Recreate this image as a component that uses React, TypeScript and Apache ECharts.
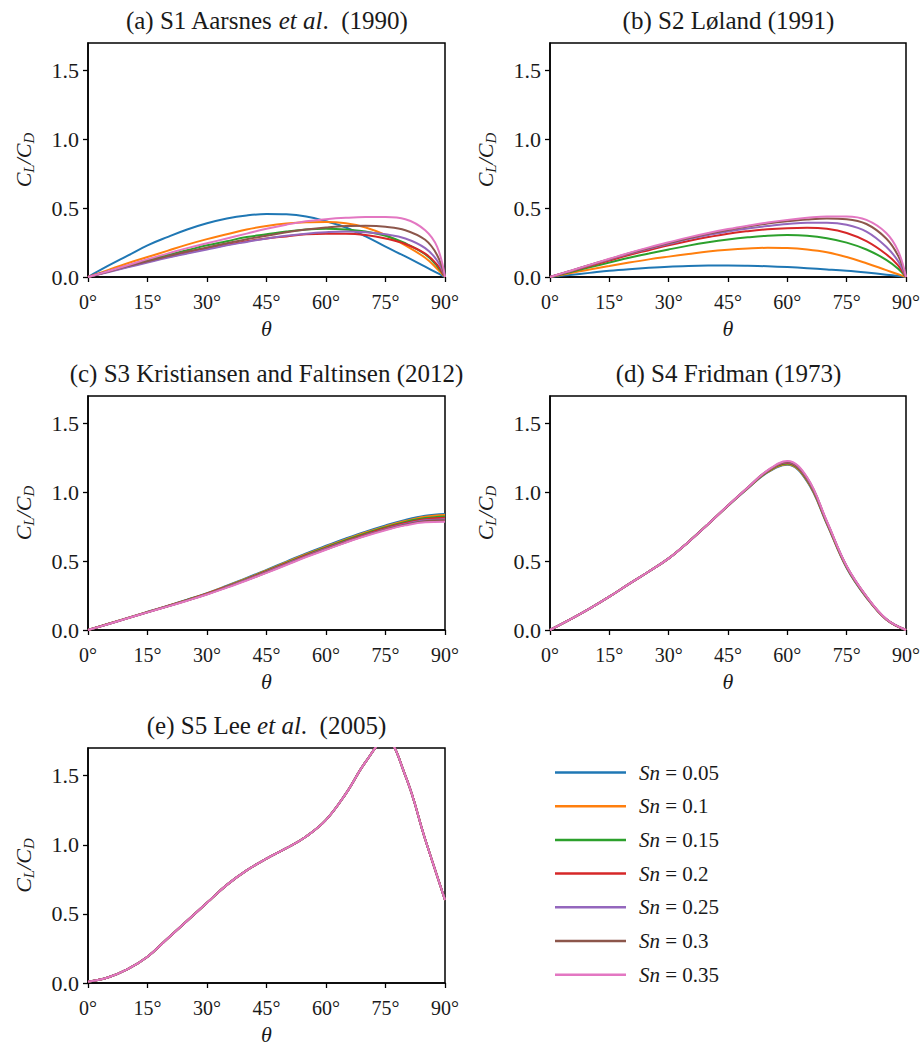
import React, { useEffect, useRef } from 'react';
import * as echarts from 'echarts';

// ---------- data ----------
const SN_LABELS = ['0.05', '0.1', '0.15', '0.2', '0.25', '0.3', '0.35'];
const X_TICKS = [0, 15, 30, 45, 60, 75, 90];
const Y_TICKS = [0, 0.5, 1.0, 1.5];

const PANEL_TITLES = [
  '{n|(a) S1 Aarsnes }{i|et al}{n|.  (1990)}',
  '{n|(b) S2 Løland (1991)}',
  '{n|(c) S3 Kristiansen and Faltinsen (2012)}',
  '{n|(d) S4 Fridman (1973)}',
  '{n|(e) S5 Lee }{i|et al}{n|.  (2005)}',
];

// (a) S1 Aarsnes et al. (1990)
const THETA_A = [0, 5, 10, 15, 20, 25, 30, 35, 40, 45, 50, 55, 60, 65, 70, 75, 80, 85, 88, 90];
const A_005 = [0, 0.08, 0.155, 0.23, 0.29, 0.345, 0.39, 0.425, 0.447, 0.457, 0.455, 0.44, 0.405, 0.36, 0.295, 0.22, 0.15, 0.075, 0.03, 0];
const A_010 = [0, 0.05, 0.1, 0.145, 0.19, 0.235, 0.275, 0.31, 0.345, 0.37, 0.388, 0.398, 0.4, 0.39, 0.36, 0.305, 0.23, 0.14, 0.06, 0];
const A_015 = [0, 0.04, 0.08, 0.12, 0.16, 0.195, 0.23, 0.26, 0.29, 0.31, 0.33, 0.345, 0.35, 0.345, 0.33, 0.3, 0.245, 0.165, 0.08, 0];
const A_020 = [0, 0.038, 0.075, 0.11, 0.145, 0.175, 0.205, 0.235, 0.26, 0.28, 0.295, 0.31, 0.315, 0.315, 0.305, 0.28, 0.24, 0.17, 0.09, 0];
const A_025 = [0, 0.035, 0.07, 0.105, 0.14, 0.17, 0.2, 0.23, 0.255, 0.28, 0.3, 0.315, 0.325, 0.33, 0.325, 0.31, 0.28, 0.21, 0.12, 0];
const A_030 = [0, 0.04, 0.08, 0.115, 0.15, 0.185, 0.215, 0.245, 0.275, 0.3, 0.325, 0.345, 0.36, 0.37, 0.372, 0.365, 0.34, 0.27, 0.16, 0];
const A_035 = [0, 0.042, 0.085, 0.13, 0.17, 0.21, 0.245, 0.28, 0.315, 0.35, 0.38, 0.405, 0.42, 0.43, 0.435, 0.435, 0.42, 0.34, 0.22, 0];

// (b) S2 Løland (1991)
const THETA_B = [0, 5, 10, 15, 20, 25, 30, 35, 40, 45, 50, 55, 60, 65, 70, 75, 80, 85, 88, 90];
const B_005 = [0, 0.015, 0.03, 0.045, 0.057, 0.067, 0.075, 0.08, 0.083, 0.084, 0.082, 0.078, 0.072, 0.064, 0.055, 0.045, 0.032, 0.017, 0.007, 0];
const B_010 = [0, 0.027, 0.055, 0.08, 0.105, 0.128, 0.148, 0.167, 0.185, 0.198, 0.207, 0.212, 0.21, 0.2, 0.18, 0.145, 0.1, 0.05, 0.02, 0];
const B_015 = [0, 0.035, 0.07, 0.105, 0.14, 0.17, 0.2, 0.228, 0.252, 0.272, 0.288, 0.3, 0.305, 0.3, 0.282, 0.25, 0.2, 0.125, 0.06, 0];
const B_020 = [0, 0.04, 0.08, 0.12, 0.16, 0.195, 0.23, 0.262, 0.29, 0.315, 0.333, 0.347, 0.355, 0.358, 0.35, 0.32, 0.26, 0.165, 0.085, 0];
const B_025 = [0, 0.042, 0.085, 0.127, 0.168, 0.205, 0.24, 0.275, 0.305, 0.33, 0.352, 0.37, 0.385, 0.395, 0.395, 0.38, 0.33, 0.22, 0.115, 0];
const B_030 = [0, 0.043, 0.087, 0.13, 0.172, 0.21, 0.247, 0.282, 0.314, 0.342, 0.367, 0.388, 0.405, 0.418, 0.425, 0.42, 0.385, 0.28, 0.155, 0];
const B_035 = [0, 0.044, 0.088, 0.132, 0.175, 0.215, 0.252, 0.288, 0.32, 0.348, 0.373, 0.396, 0.415, 0.43, 0.44, 0.44, 0.415, 0.32, 0.19, 0];

// (c) S3 Kristiansen and Faltinsen (2012)
const THETA_C = [0, 5, 10, 15, 20, 25, 30, 35, 40, 45, 50, 55, 60, 65, 70, 75, 80, 85, 90];
const C_005 = [0, 0.043, 0.087, 0.132, 0.175, 0.22, 0.268, 0.322, 0.378, 0.437, 0.497, 0.557, 0.612, 0.665, 0.715, 0.76, 0.8, 0.83, 0.843];
const C_010 = [0, 0.043, 0.087, 0.131, 0.174, 0.219, 0.266, 0.319, 0.374, 0.433, 0.492, 0.551, 0.606, 0.658, 0.708, 0.753, 0.792, 0.822, 0.835];
const C_015 = [0, 0.043, 0.086, 0.13, 0.173, 0.218, 0.264, 0.316, 0.371, 0.429, 0.487, 0.546, 0.6, 0.652, 0.701, 0.746, 0.785, 0.813, 0.825];
const C_020 = [0, 0.043, 0.086, 0.13, 0.172, 0.216, 0.263, 0.314, 0.368, 0.425, 0.483, 0.541, 0.595, 0.646, 0.695, 0.739, 0.777, 0.805, 0.815];
const C_025 = [0, 0.042, 0.086, 0.129, 0.172, 0.215, 0.261, 0.312, 0.365, 0.422, 0.479, 0.537, 0.59, 0.641, 0.689, 0.733, 0.77, 0.797, 0.805];
const C_030 = [0, 0.042, 0.085, 0.129, 0.171, 0.214, 0.26, 0.31, 0.362, 0.418, 0.475, 0.533, 0.586, 0.638, 0.686, 0.729, 0.765, 0.791, 0.797];
const C_035 = [0, 0.042, 0.085, 0.128, 0.17, 0.213, 0.258, 0.308, 0.36, 0.415, 0.472, 0.53, 0.583, 0.635, 0.683, 0.725, 0.76, 0.783, 0.787];

// (d) S4 Fridman (1973)
const THETA_D = [0, 5, 10, 15, 20, 25, 30, 35, 40, 45, 50, 55, 60, 65, 70, 75, 80, 85, 90];
const D_005 = [0, 0.075, 0.155, 0.242, 0.335, 0.425, 0.52, 0.64, 0.77, 0.902, 1.028, 1.145, 1.2, 1.08, 0.77, 0.45, 0.235, 0.077, 0];
const D_010 = [0, 0.075, 0.155, 0.242, 0.335, 0.425, 0.52, 0.64, 0.77, 0.903, 1.03, 1.148, 1.205, 1.085, 0.773, 0.453, 0.237, 0.077, 0];
const D_015 = [0, 0.075, 0.155, 0.242, 0.335, 0.425, 0.52, 0.64, 0.77, 0.903, 1.031, 1.151, 1.21, 1.09, 0.777, 0.456, 0.239, 0.078, 0];
const D_020 = [0, 0.075, 0.155, 0.242, 0.335, 0.425, 0.52, 0.64, 0.77, 0.904, 1.033, 1.154, 1.215, 1.095, 0.781, 0.459, 0.241, 0.078, 0];
const D_025 = [0, 0.075, 0.155, 0.242, 0.335, 0.425, 0.52, 0.64, 0.77, 0.904, 1.034, 1.156, 1.219, 1.1, 0.784, 0.461, 0.243, 0.079, 0];
const D_030 = [0, 0.075, 0.155, 0.242, 0.335, 0.425, 0.52, 0.64, 0.77, 0.905, 1.035, 1.158, 1.223, 1.105, 0.787, 0.463, 0.244, 0.079, 0];
const D_035 = [0, 0.075, 0.155, 0.242, 0.335, 0.425, 0.52, 0.64, 0.77, 0.905, 1.036, 1.16, 1.228, 1.11, 0.79, 0.465, 0.245, 0.08, 0];

// (e) S5 Lee et al. (2005) — all Sn curves coincide
const THETA_E = [0, 5, 10, 15, 20, 25, 30, 35, 40, 45, 50, 55, 60, 65, 70, 75, 80, 85, 90];
const E_ALL = [0.01, 0.04, 0.1, 0.19, 0.32, 0.45, 0.58, 0.71, 0.815, 0.9, 0.975, 1.06, 1.18, 1.37, 1.6, 1.76, 1.5, 1.04, 0.6];

const PANELS = [
  { theta: THETA_A, values: [A_005, A_010, A_015, A_020, A_025, A_030, A_035] },
  { theta: THETA_B, values: [B_005, B_010, B_015, B_020, B_025, B_030, B_035] },
  { theta: THETA_C, values: [C_005, C_010, C_015, C_020, C_025, C_030, C_035] },
  { theta: THETA_D, values: [D_005, D_010, D_015, D_020, D_025, D_030, D_035] },
  { theta: THETA_E, values: [E_ALL, E_ALL, E_ALL, E_ALL, E_ALL, E_ALL, E_ALL] },
];

// ---------- style / layout ----------
const COLORS = ['#1f77b4', '#ff7f0e', '#2ca02c', '#d62728', '#9467bd', '#8c564b', '#e377c2'];
const FONT = 'Liberation Serif';
const TEXT = '#1a1a1a';
const GRIDS = [
  { left: 88, top: 43, width: 357, height: 234 },
  { left: 550, top: 43, width: 357, height: 234 },
  { left: 88, top: 396, width: 357, height: 234 },
  { left: 550, top: 396, width: 357, height: 234 },
  { left: 88, top: 748, width: 357, height: 235 },
];

export default function App() {
  const ref = useRef<HTMLDivElement>(null);
  useEffect(() => {
    document.body.style.margin = '0';
    if (!ref.current) return;
    const chart = echarts.init(ref.current, null, { renderer: 'svg' });

    const xAxes = GRIDS.map((_, i) => ({
      type: 'value',
      gridIndex: i,
      min: 0,
      max: 90,
      interval: 15,
      name: 'θ',
      nameLocation: 'middle',
      nameGap: 40,
      nameTextStyle: { fontFamily: FONT, fontStyle: 'italic', fontSize: 22, color: TEXT },
      axisLine: { show: true, lineStyle: { color: '#000', width: 1.5 } },
      axisTick: { show: true, length: 5, lineStyle: { color: '#000', width: 1.3 }, customValues: X_TICKS },
      axisLabel: {
        customValues: X_TICKS,
        margin: 15,
        fontFamily: FONT,
        fontSize: 20,
        color: TEXT,
        formatter: (v: number) => `${v}°`,
      },
      splitLine: { show: false },
    }));

    const yAxes = GRIDS.map((_, i) => ({
      type: 'value',
      gridIndex: i,
      min: 0,
      max: 1.7,
      name: '{c|C}{s|L}{c|/C}{s|D}',
      nameLocation: 'middle',
      nameRotate: 90,
      nameGap: 52,
      nameMoveOverlap: false,
      nameTextStyle: {
        rich: {
          c: { fontFamily: FONT, fontStyle: 'italic', fontSize: 22, color: TEXT, lineHeight: 26, verticalAlign: 'middle' },
          s: { fontFamily: FONT, fontStyle: 'italic', fontSize: 15, color: TEXT, lineHeight: 12, verticalAlign: 'bottom' },
        },
      },
      axisLine: { show: true, lineStyle: { color: '#000', width: 1.5 } },
      axisTick: { show: true, length: 5, lineStyle: { color: '#000', width: 1.3 }, customValues: Y_TICKS },
      axisLabel: {
        customValues: Y_TICKS,
        margin: 9,
        fontFamily: FONT,
        fontSize: 22,
        color: TEXT,
        formatter: (v: number) => v.toFixed(1),
      },
      splitLine: { show: false },
    }));

    const series: any[] = [];
    PANELS.forEach((p, pi) => {
      p.values.forEach((vals, si) => {
        series.push({
          type: 'line',
          name: SN_LABELS[si],
          xAxisIndex: pi,
          yAxisIndex: pi,
          data: p.theta.map((t, k) => [t, vals[k]]),
          showSymbol: false,
          smooth: 0.4,
          clip: true,
          color: COLORS[si],
          lineStyle: { color: COLORS[si], width: 2 },
          emphasis: { disabled: true },
        });
      });
    });

    const titles = PANEL_TITLES.map((t, i) => ({
      type: 'text',
      x: GRIDS[i].left + GRIDS[i].width / 2,
      y: GRIDS[i].top - 23,
      style: {
        text: t,
        align: 'center',
        verticalAlign: 'middle',
        rich: {
          n: { fontFamily: FONT, fontSize: 25, fill: TEXT },
          i: { fontFamily: FONT, fontSize: 25, fontStyle: 'italic', fill: TEXT },
        },
      },
    }));

    chart.setOption({
      animation: false,
      backgroundColor: '#fff',
      color: COLORS,
      textStyle: { fontFamily: FONT },
      grid: GRIDS.map((g) => ({ ...g, show: true, borderColor: '#000', borderWidth: 1.5, backgroundColor: 'transparent', containLabel: false })),
      xAxis: xAxes,
      yAxis: yAxes,
      series,
      legend: {
        data: SN_LABELS,
        orient: 'vertical',
        left: 550,
        top: 757,
        icon: 'rect',
        itemWidth: 71,
        itemHeight: 2.5,
        itemGap: 12.7,
        selectedMode: false,
        formatter: (name: string) => `{i|Sn}{t| = ${name}}`,
        textStyle: {
          padding: [0, 0, 0, 8],
          rich: {
            i: { fontFamily: FONT, fontStyle: 'italic', fontSize: 21, color: TEXT, lineHeight: 22 },
            t: { fontFamily: FONT, fontSize: 21, color: TEXT, lineHeight: 22 },
          },
        },
      },
      graphic: titles,
    });

    return () => chart.dispose();
  }, []);

  return <div ref={ref} style={{ width: 923, height: 1049 }} />;
}
